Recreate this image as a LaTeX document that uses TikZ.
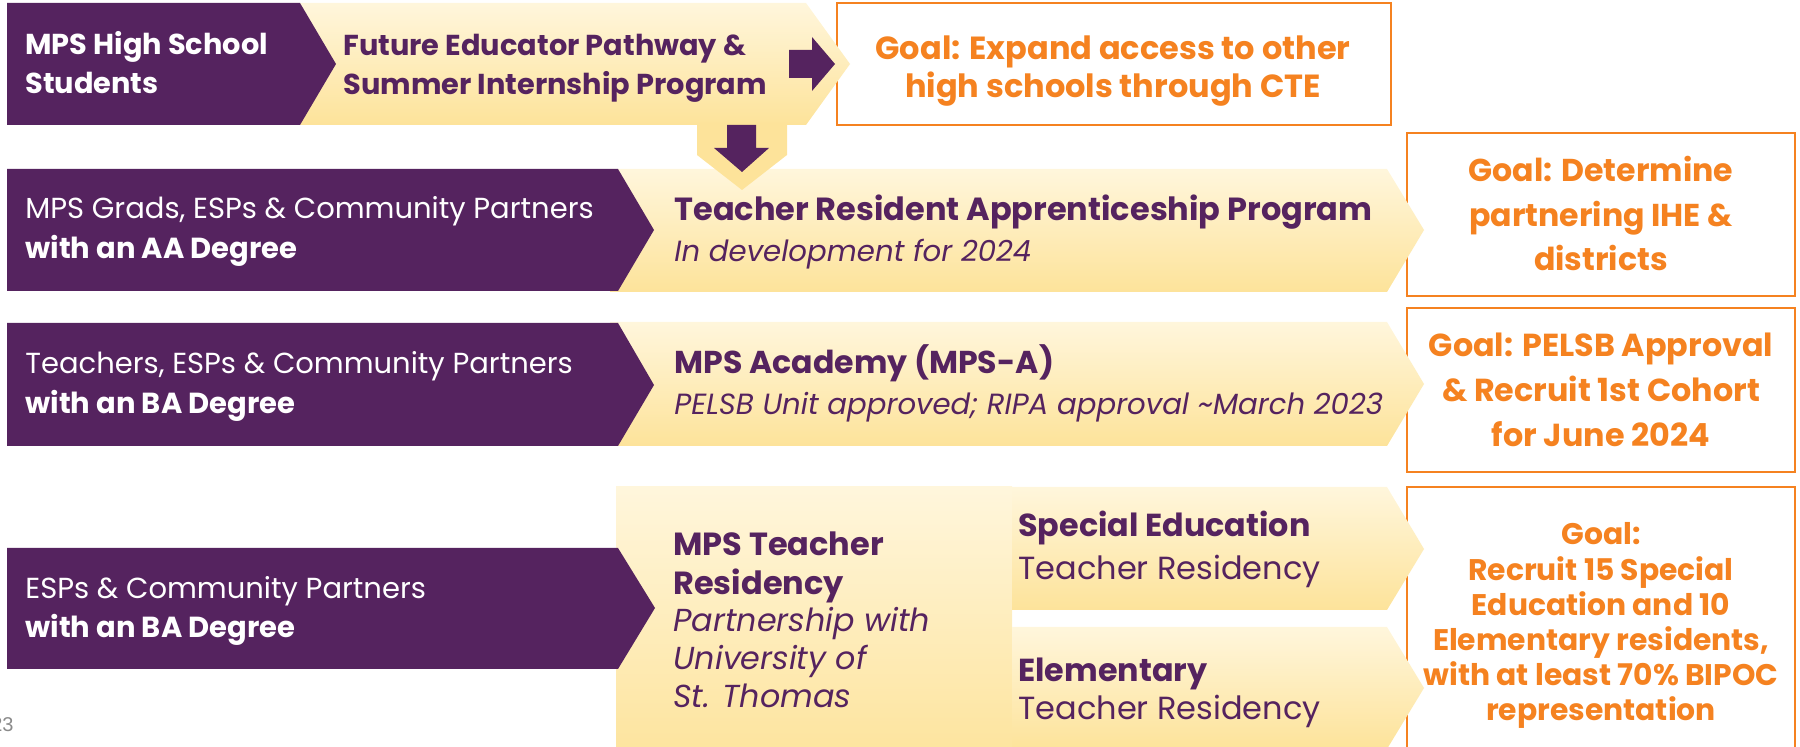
\documentclass[tikz,border=0pt]{standalone}
\usepackage{fontspec}
\setmainfont{Poppins}
\newfontfamily\pagefont{Liberation Sans}
\definecolor{mpspurple}{HTML}{55235F}
\definecolor{goalorange}{HTML}{F58220}
\definecolor{goldtop}{HTML}{FFF6DC}
\definecolor{goldbot}{HTML}{FDE39A}
\definecolor{pagegray}{HTML}{8A8A8A}
\newcommand\setfs[2]{\fontsize{#1}{#2}\selectfont}
\begin{document}
\begin{tikzpicture}[x=0.5pt,y=-0.5pt,
  purpleband/.style={fill=mpspurple},
  goldband/.style={top color=goldtop,bottom color=goldbot},
  goalbox/.style={draw=goalorange,line width=1.2pt,fill=white},
  blockarrow/.style={fill=mpspurple},
  whitetxt/.style={text=white,inner sep=0,anchor=base west,align=left},
  purpletxt/.style={text=mpspurple,inner sep=0,anchor=base west,align=left},
  goaltxt/.style={text=goalorange,inner sep=0,anchor=base,align=center},
]
\useasboundingbox (0,0) rectangle (1800,747);
\clip (0,0) rectangle (1800,747);

% goal boxes (drawn first, chevron tips lie over their left borders)
\draw[goalbox] (837,3) rectangle (1391,125);
\draw[goalbox] (1407,133) rectangle (1795,296);
\draw[goalbox] (1407,308) rectangle (1795,472);
\draw[goalbox] (1407,487) rectangle (1795,770);

% row 1: high school students
\shade[goldband] (290,3) -- (806,3) -- (850,64) -- (806,125) -- (290,125) -- cycle;
\fill[purpleband] (7,3) -- (300,3) -- (336,64) -- (300,125) -- (7,125) -- cycle;
\fill[blockarrow] (789,50) -- (812,50) -- (812,37) -- (835,64) -- (812,91) -- (812,78) -- (789,78) -- cycle;

% row 2: AA degree
\shade[goldband] (610,169) -- (1387,169) -- (1424,230) -- (1387,292) -- (610,292) -- cycle;
\fill[purpleband] (7,169) -- (618,169) -- (654,230) -- (618,291) -- (7,291) -- cycle;

% tab carrying the pathway down into row 2
\fill[goldbot] (697,123) -- (787,123) -- (787,155) -- (742,190) -- (697,155) -- cycle;
\fill[blockarrow] (727,125) -- (756,125) -- (756,148) -- (769,148) -- (742,172) -- (714,148) -- (727,148) -- cycle;

% row 3: BA degree
\shade[goldband] (610,322) -- (1387,322) -- (1424,384) -- (1387,446) -- (610,446) -- cycle;
\fill[purpleband] (7,323) -- (618,323) -- (654,385) -- (618,446) -- (7,446) -- cycle;

% row 4: teacher residency with two branches
\shade[goldband] (616,487) rectangle (1012,770);
\shade[goldband] (1012,487) -- (1387,487) -- (1424,549) -- (1387,610) -- (1012,610) -- cycle;
\shade[goldband] (1012,627) -- (1387,627) -- (1424,688) -- (1387,749) -- (1012,749) -- cycle;
\fill[purpleband] (7,548) -- (618,548) -- (655,608) -- (618,669) -- (7,669) -- cycle;

% texts (each anchored at the baseline of its last line)
\node[whitetxt,font=\bfseries\setfs{14.4}{19.5}] (hs) at (25,94) {MPS High School\\Students};
\node[purpletxt,font=\bfseries\setfs{14.4}{19.5}] (fep) at (343,95) {Future Educator Pathway \&\\Summer Internship Program};
\node[goaltxt,font=\bfseries\setfs{16}{19}] (g1) at (1113,98) {Goal: Expand access to other\\high schools through CTE};

\node[whitetxt,font=\setfs{14.5}{20}] (aa) at (25,259) {MPS Grads, ESPs \& Community Partners\\\textbf{with an AA Degree}};
\node[purpletxt,font=\bfseries\setfs{16}{20}] (tra) at (674,221) {Teacher Resident Apprenticeship Program};
\node[purpletxt,font=\itshape\setfs{14.6}{20}] (trasub) at (674,262) {In development for 2024};
\node[goaltxt,font=\bfseries\setfs{15.8}{22.3}] (g2) at (1601,271) {Goal: Determine\\partnering IHE \&\\districts};

\node[whitetxt,font=\setfs{14.5}{20}] (ba) at (25,414) {Teachers, ESPs \& Community Partners\\\textbf{with an BA Degree}};
\node[purpletxt,font=\bfseries\setfs{15.8}{20}] (mpsa) at (674,374) {MPS Academy (MPS-A)};
\node[purpletxt,font=\itshape\setfs{14.6}{20}] (mpsasub) at (674,415) {PELSB Unit approved; RIPA approval \textasciitilde March 2023};
\node[goaltxt,font=\bfseries\setfs{15.9}{22.5}] (g3) at (1601,447) {Goal: PELSB Approval\\\& Recruit 1st Cohort\\for June 2024};

\node[whitetxt,font=\setfs{14.5}{19.5}] (esp) at (25,638) {ESPs \& Community Partners\\\textbf{with an BA Degree}};
\node[purpletxt,font=\bfseries\setfs{16}{19.5}] (mtr) at (673,595) {MPS Teacher\\Residency};
\node[purpletxt,font=\itshape\setfs{15.9}{19}] (mtrsub) at (673,708) {Partnership with\\University of\\St. Thomas};
\node[purpletxt,font=\bfseries\setfs{15.9}{20}] (sped) at (1018,537) {Special Education};
\node[purpletxt,font=\setfs{16}{20}] (spedsub) at (1018,580) {Teacher Residency};
\node[purpletxt,font=\bfseries\setfs{15.9}{20}] (elem) at (1018,682) {Elementary};
\node[purpletxt,font=\setfs{16}{20}] (elemsub) at (1018,720) {Teacher Residency};
\node[goaltxt,font=\bfseries\setfs{14.9}{17.6}] (g4) at (1601,721) {Goal:\\Recruit 15 Special\\Education and 10\\Elementary residents,\\with at least 70\% BIPOC\\representation};

\node[text=pagegray,inner sep=0,anchor=base east,font=\pagefont\setfs{10}{12}] (pg) at (14,732) {23};
\end{tikzpicture}
\end{document}
